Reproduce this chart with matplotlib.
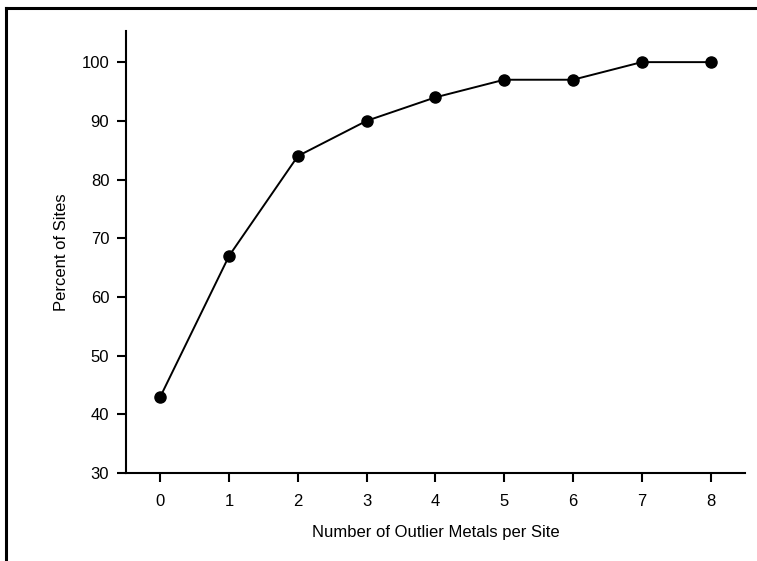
import matplotlib
matplotlib.use('Agg')
import matplotlib.pyplot as plt
from matplotlib.lines import Line2D

plt.rcParams['font.family'] = ['Liberation Sans', 'DejaVu Sans']

# dati
n_metalli = [0, 1, 2, 3, 4, 5, 6, 7, 8]
percentuale = [43, 67, 84, 90, 94, 97, 97, 100, 100]
y_ticks = [30, 40, 50, 60, 70, 80, 90, 100]

fig = plt.figure(figsize=(7.57, 5.61), dpi=100)
ax = fig.add_axes([0.1664, 0.1569, 0.8176, 0.7878])

ax.plot(n_metalli, percentuale, color='black', linewidth=1.4,
        marker='o', markersize=8, markerfacecolor='black', markeredgecolor='black')

ax.set_xlim(-0.5, 8.5)
ax.set_ylim(30, 105.3)
ax.set_xticks(n_metalli)
ax.set_yticks(y_ticks)

for s in ['top', 'right']:
    ax.spines[s].set_visible(False)
for s in ['left', 'bottom']:
    ax.spines[s].set_linewidth(1.5)
ax.tick_params(direction='out', length=6.5, width=1.5, labelsize=12)
ax.tick_params(axis='x', pad=8.5)
ax.tick_params(axis='y', pad=5.5)

ax.set_xlabel('Number of Outlier Metals per Site', fontsize=12, labelpad=12)
ax.set_ylabel('Percent of Sites', fontsize=12, labelpad=9)

# cornice (solo sopra e a sinistra)
fig.add_artist(Line2D([0.0079, 0.0079], [0, 0.9866], color='black', linewidth=2.2))
fig.add_artist(Line2D([0.0079, 1.0], [0.9866, 0.9866], color='black', linewidth=2.2))

fig.savefig('out.png', dpi=100)
